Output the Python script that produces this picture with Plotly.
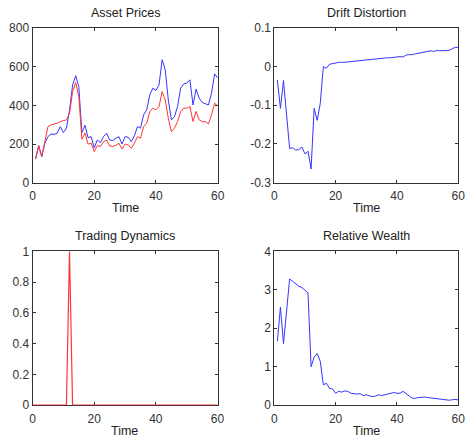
import plotly.graph_objects as go

time = list(range(1, 61))

price_blue = [123, 192, 135, 204, 238, 252, 250, 256, 290, 259,
              282, 376, 506, 553, 497, 259, 297, 233, 238, 180,
              221, 207, 238, 256, 221, 218, 230, 238, 200, 238,
              235, 212, 242, 290, 282, 351, 377, 454, 489, 477,
              506, 636, 584, 428, 325, 342, 394, 489, 511, 515,
              532, 402, 484, 437, 415, 408, 402, 463, 563, 541]

price_red = [123, 192, 135, 221, 290, 299, 302, 307, 316, 321,
             325, 359, 471, 518, 446, 225, 256, 200, 204, 161,
             192, 187, 212, 221, 190, 187, 193, 204, 174, 200,
             195, 178, 204, 238, 230, 290, 307, 368, 385, 377,
             394, 471, 428, 333, 264, 282, 316, 368, 385, 385,
             394, 316, 368, 325, 316, 316, 304, 351, 411, 397]

drift = [-0.035, -0.108, -0.036, -0.120, -0.212, -0.210, -0.216, -0.215, -0.208, -0.226,
         -0.219, -0.265, -0.108, -0.139, -0.095, 0.000, -0.004, 0.006, 0.008, 0.010,
         0.011, 0.011, 0.011, 0.012, 0.013, 0.014, 0.015, 0.0155, 0.016, 0.017,
         0.018, 0.019, 0.020, 0.021, 0.022, 0.022, 0.023, 0.023, 0.024, 0.025,
         0.026, 0.025, 0.030, 0.031, 0.031, 0.033, 0.035, 0.037, 0.039, 0.040,
         0.041, 0.039, 0.042, 0.041, 0.041, 0.041, 0.042, 0.046, 0.050, 0.050]

trading = [0] * 11 + [1] + [0] * 48

wealth = [1.66, 2.55, 1.60, 2.48, 3.28, 3.22, 3.15, 3.09, 3.06, 2.98,
          2.92, 1.00, 1.25, 1.34, 1.14, 0.53, 0.57, 0.44, 0.42, 0.31,
          0.36, 0.34, 0.37, 0.36, 0.31, 0.30, 0.29, 0.30, 0.25, 0.27,
          0.25, 0.22, 0.24, 0.27, 0.25, 0.27, 0.30, 0.33, 0.33, 0.31,
          0.31, 0.36, 0.31, 0.24, 0.18, 0.18, 0.20, 0.21, 0.21, 0.20,
          0.19, 0.17, 0.17, 0.15, 0.14, 0.13, 0.13, 0.14, 0.15, 0.14]

titles = ["Asset Prices", "Drift Distortion", "Trading Dynamics", "Relative Wealth"]
x_ticks = [0, 20, 40, 60]
y_ticks_prices = [0, 200, 400, 600, 800]
y_ticks_drift = [-0.3, -0.2, -0.1, 0, 0.1]
y_ticks_drift_text = ["-0.3", "-0.2", "-0.1", "0", "0.1"]
y_ticks_trading = [0, 0.2, 0.4, 0.6, 0.8, 1]
y_ticks_trading_text = ["0", "0.2", "0.4", "0.6", "0.8", "1"]
y_ticks_wealth = [0, 1, 2, 3, 4]

W, H = 466, 437
FONT = "Liberation Sans, Arial, sans-serif"
BLUE = "#3535ff"
RED = "#ff3535"

# pixel boxes (left, right, top, bottom)
boxes = [(32.5, 217.7, 28.0, 182.7),
         (274.3, 458.2, 28.0, 182.5),
         (32.5, 217.5, 251.3, 405.2),
         (274.3, 458.2, 251.3, 405.2)]

fig = go.Figure()

fig.add_trace(go.Scatter(x=time, y=price_blue, mode="lines", line=dict(color=BLUE, width=1), xaxis="x", yaxis="y"))
fig.add_trace(go.Scatter(x=time, y=price_red, mode="lines", line=dict(color=RED, width=1), xaxis="x", yaxis="y"))
fig.add_trace(go.Scatter(x=time, y=drift, mode="lines", line=dict(color=BLUE, width=1), xaxis="x2", yaxis="y2"))
fig.add_trace(go.Scatter(x=[0] + time, y=[0] + trading, mode="lines", line=dict(color=RED, width=1.2), xaxis="x3", yaxis="y3"))
fig.add_trace(go.Scatter(x=time, y=wealth, mode="lines", line=dict(color=BLUE, width=1), xaxis="x4", yaxis="y4"))

yspecs = [
    (dict(range=[0, 800], tickvals=y_ticks_prices)),
    (dict(range=[-0.3, 0.1], tickvals=y_ticks_drift, ticktext=y_ticks_drift_text)),
    (dict(range=[0, 1], tickvals=y_ticks_trading, ticktext=y_ticks_trading_text)),
    (dict(range=[0, 4], tickvals=y_ticks_wealth)),
]

axis_common = dict(showline=True, mirror="allticks", linecolor="#333333", linewidth=1,
                   ticks="inside", ticklen=3, tickcolor="#333333", showgrid=False,
                   zeroline=False, automargin=False,
                   tickfont=dict(family=FONT, size=12, color="#333333"))

annotations = []
for i, (l, r, t, b) in enumerate(boxes):
    n = "" if i == 0 else str(i + 1)
    xd = [l / W, r / W]
    yd = [1 - b / H, 1 - t / H]
    fig.update_layout(**{
        "xaxis" + n: dict(domain=xd, range=[0, 60], tickvals=x_ticks, anchor="y" + n,
                          ticklabelstandoff=2,
                          layer="below traces" if i == 2 else "above traces", **axis_common),
        "yaxis" + n: dict(domain=yd, anchor="x" + n,
                          layer="below traces" if i == 2 else "above traces",
                          **yspecs[i], **axis_common),
    })
    annotations.append(dict(text=titles[i], x=(l + r) / 2 / W, y=1 - (t - 15) / H,
                            xref="paper", yref="paper", showarrow=False,
                            xanchor="center", yanchor="middle",
                            font=dict(family=FONT, size=12.5, color="#222222")))
    annotations.append(dict(text="Time", x=(l + r) / 2 / W, y=1 - (b + 25.5) / H,
                            xref="paper", yref="paper", showarrow=False,
                            xanchor="center", yanchor="middle",
                            font=dict(family=FONT, size=12.5, color="#222222")))

fig.update_layout(template="none", width=W, height=H, margin=dict(l=0, r=0, t=0, b=0, pad=0),
                  paper_bgcolor="white", plot_bgcolor="white", showlegend=False,
                  annotations=annotations, font=dict(family=FONT))

fig.write_html("out.html", config=dict(displayModeBar=False),
               post_script="document.body.style.margin='0';document.body.style.overflow='hidden';")
